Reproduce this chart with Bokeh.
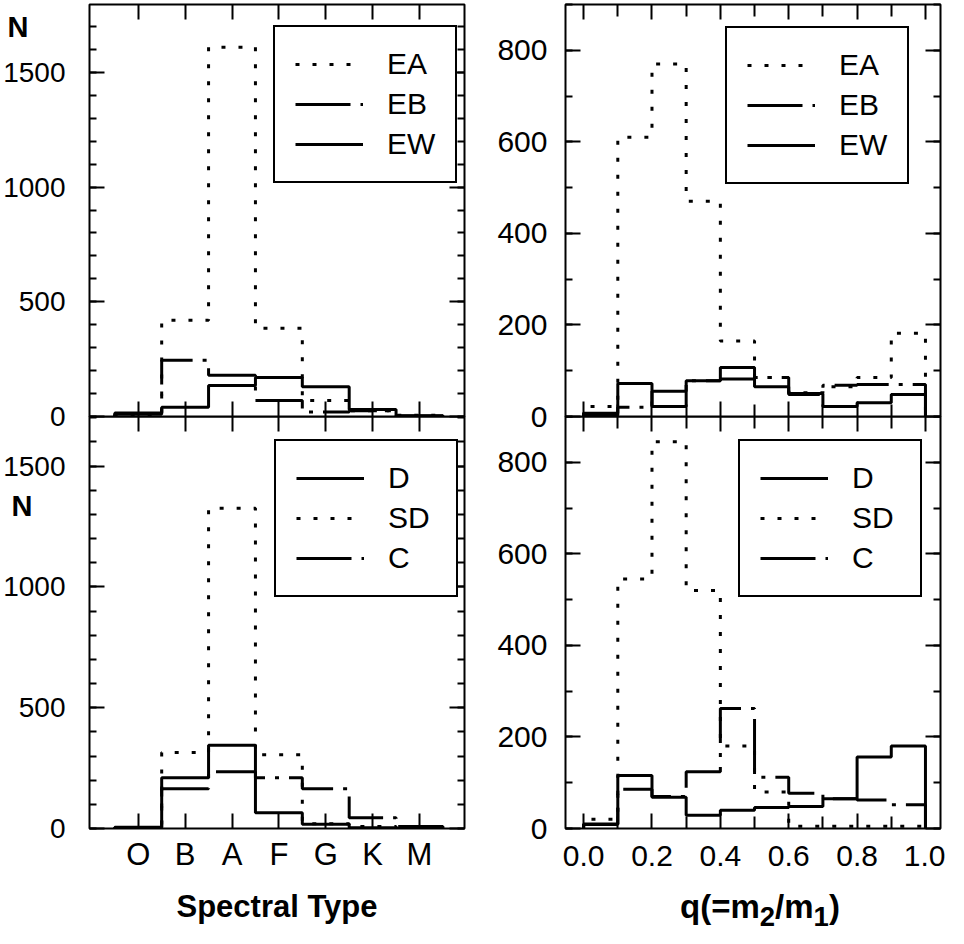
from bokeh.plotting import figure
from bokeh.models import (Range1d, FixedTicker, LinearAxis, Legend, LegendItem,
                          PrintfTickFormatter, Div, CustomLabelingPolicy)
from bokeh.layouts import column, row
from bokeh.embed import file_html
from bokeh.resources import INLINE

FONT = "Liberation Sans"

# ---------------- data ----------------
spectral_types = ["O", "B", "A", "F", "G", "K", "M"]
spectral_pos = [1, 2, 3, 4, 5, 6, 7]
spectral_edges = [0.5, 1.5, 2.5, 3.5, 4.5, 5.5, 6.5, 7.5]

# top-left: light-curve types vs spectral type
sp_EA = [5, 420, 1610, 385, 70, 25, 5]
sp_EB = [10, 245, 180, 70, 20, 25, 2]
sp_EW = [15, 40, 135, 170, 130, 30, 3]

# bottom-left: morphology vs spectral type
sp_D = [5, 210, 345, 65, 18, 3, 1]
sp_SD = [3, 315, 1325, 305, 20, 8, 2]
sp_C = [3, 165, 235, 210, 165, 45, 8]

# right panels: mass ratio q
q_edges = [0.0, 0.1, 0.2, 0.3, 0.4, 0.5, 0.6, 0.7, 0.8, 0.9, 1.0]
q_EA = [22, 610, 770, 470, 165, 85, 52, 65, 85, 182]
q_EB = [3, 20, 55, 78, 82, 85, 48, 68, 70, 70]
q_EW = [7, 72, 22, 78, 107, 65, 50, 22, 30, 48]

q_D = [9, 116, 68, 29, 40, 46, 48, 65, 156, 180]
q_SD = [20, 545, 845, 520, 180, 80, 5, 5, 5, 5]
q_C = [10, 86, 70, 124, 262, 112, 77, 65, 62, 52]

left_yticks = [0, 500, 1000, 1500]
left_yminor = list(range(0, 1800, 100))
right_yticks = [0, 200, 400, 600, 800]
right_yminor = list(range(0, 901, 100))
q_ticks = [0.0, 0.2, 0.4, 0.6, 0.8, 1.0]
q_minor = [0.1, 0.3, 0.5, 0.7, 0.9]

DOT = "4 13"
DASHDOT = "55 10 4 10"
FH = 412  # frame height

NO_LABELS = CustomLabelingPolicy(code="""
for (const i of indices) { indices.unset(i) }
return indices
""")


def step_xy(edges, vals):
    return [edges[0]] + list(edges), [0] + list(vals) + [0]


def style_axis(ax, ticker, fs=None, standoff=0, major_in=15, minor_in=7):
    ax.ticker = ticker
    ax.axis_line_color = None
    ax.major_tick_in = major_in
    ax.major_tick_out = 0
    ax.minor_tick_in = minor_in
    ax.minor_tick_out = 0
    ax.major_tick_line_width = 2
    ax.minor_tick_line_width = 2
    ax.major_tick_line_color = "black"
    ax.minor_tick_line_color = "black"
    if fs is not None:
        ax.major_label_text_font = FONT
        ax.major_label_text_font_size = fs
        ax.major_label_text_color = "black"
        ax.major_label_standoff = standoff
    else:
        ax.major_label_text_font_size = "0px"
        ax.major_label_standoff = 0
        ax.major_label_policy = NO_LABELS


def panel(xr, yr, bl, br, bt, bb):
    p = figure(frame_width=375, frame_height=FH, x_range=xr, y_range=yr,
               output_backend="svg", toolbar_location=None,
               min_border_left=bl, min_border_right=br,
               min_border_top=bt, min_border_bottom=bb)
    p.grid.visible = False
    p.outline_line_color = "black"
    p.outline_line_width = 2
    p.outline_line_alpha = 1
    return p


def add_mirror_axes(p, xticker, yticker, minor_in_x=7):
    top = LinearAxis()
    style_axis(top, xticker, minor_in=minor_in_x)
    p.add_layout(top, "above")
    right = LinearAxis()
    style_axis(right, yticker)
    p.add_layout(right, "right")


def draw(p, edges, vals, dash):
    xs, ys = step_xy(edges, vals)
    return p.step(x=xs, y=ys, mode="after", line_color="black", line_width=3,
                  line_dash=dash)


def add_legend(p, items, loc):
    leg = Legend(items=[LegendItem(label=l, renderers=[r]) for l, r in items],
                 location=loc, orientation="vertical",
                 label_text_font=FONT, label_text_font_size="30px",
                 label_text_color="black",
                 glyph_width=68, glyph_height=34, label_height=34, label_width=48,
                 label_standoff=24, spacing=6, padding=20, margin=0,
                 border_line_color="black", border_line_width=2, border_line_alpha=1,
                 background_fill_color="white", background_fill_alpha=1)
    p.add_layout(leg)


def n_div(margin):
    return Div(text="N", width=30, height=30, margin=margin,
               styles={"font-family": FONT, "font-size": "29px", "font-weight": "bold",
                       "line-height": "30px", "text-align": "center", "color": "black",
                       "z-index": "10"})


sp_label_map = {pos: name for pos, name in zip(spectral_pos, spectral_types)}
sp_ticker = dict(ticks=spectral_pos, minor_ticks=[])
ly_ticker = dict(ticks=left_yticks, minor_ticks=left_yminor)
ry_ticker = dict(ticks=right_yticks, minor_ticks=right_yminor)
q_ticker = dict(ticks=q_ticks, minor_ticks=q_minor)
sp_x = (-0.04, 7.96)

# ---------------- top-left ----------------
tl = panel(Range1d(*sp_x), Range1d(0, 1796), 89, 5, 4, 20)
style_axis(tl.xaxis[0], FixedTicker(**sp_ticker))
style_axis(tl.yaxis[0], FixedTicker(**ly_ticker), "28px", 24)
add_mirror_axes(tl, FixedTicker(**sp_ticker), FixedTicker(**ly_ticker))
r_ea = draw(tl, spectral_edges, sp_EA, DOT)
r_eb = draw(tl, spectral_edges, sp_EB, DASHDOT)
r_ew = draw(tl, spectral_edges, sp_EW, "solid")
add_legend(tl, [("EA", r_ea), ("EB", r_eb), ("EW", r_ew)], (184, 233))
tl.border_fill_color = "white"
tl.margin = (0, 0, -20, 0)

# ---------------- bottom-left ----------------
bl = panel(Range1d(*sp_x), Range1d(0, 1705), 89, 5, 0, 96)
style_axis(bl.xaxis[0], FixedTicker(**sp_ticker), "31px", 8)
bl.xaxis[0].major_label_overrides = sp_label_map
bl.xaxis[0].axis_label = "Spectral Type"
bl.xaxis[0].axis_label_text_font = FONT
bl.xaxis[0].axis_label_text_font_size = "31px"
bl.xaxis[0].axis_label_text_font_style = "bold"
bl.xaxis[0].axis_label_text_color = "black"
bl.xaxis[0].axis_label_standoff = 14
style_axis(bl.yaxis[0], FixedTicker(**ly_ticker), "28px", 24)
add_mirror_axes(bl, FixedTicker(**sp_ticker), FixedTicker(**ly_ticker))
r_d = draw(bl, spectral_edges, sp_D, "solid")
r_sd = draw(bl, spectral_edges, sp_SD, DOT)
r_c = draw(bl, spectral_edges, sp_C, DASHDOT)
add_legend(bl, [("D", r_d), ("SD", r_sd), ("C", r_c)], (185, 231))
bl.border_fill_color = None
bl.background_fill_color = None

# ---------------- top-right ----------------
qx = (-0.053, 1.044)
tr = panel(Range1d(*qx), Range1d(0, 900), 96, 5, 4, 20)
style_axis(tr.xaxis[0], FixedTicker(**q_ticker), minor_in=12)
style_axis(tr.yaxis[0], FixedTicker(**ry_ticker), "30px", 18)
add_mirror_axes(tr, FixedTicker(**q_ticker), FixedTicker(**ry_ticker), minor_in_x=12)
r_ea2 = draw(tr, q_edges, q_EA, DOT)
r_eb2 = draw(tr, q_edges, q_EB, DASHDOT)
r_ew2 = draw(tr, q_edges, q_EW, "solid")
add_legend(tr, [("EA", r_ea2), ("EB", r_eb2), ("EW", r_ew2)], (160, 232))
tr.border_fill_color = "white"
tr.margin = (0, 0, -20, 0)

# ---------------- bottom-right ----------------
br = panel(Range1d(*qx), Range1d(0, 900), 96, 5, 0, 52)
style_axis(br.xaxis[0], FixedTicker(**q_ticker), "30px", 17, minor_in=12)
br.xaxis[0].formatter = PrintfTickFormatter(format="%.1f")
style_axis(br.yaxis[0], FixedTicker(**ry_ticker), "30px", 18)
add_mirror_axes(br, FixedTicker(**q_ticker), FixedTicker(**ry_ticker), minor_in_x=12)
r_d2 = draw(br, q_edges, q_D, "solid")
r_sd2 = draw(br, q_edges, q_SD, DOT)
r_c2 = draw(br, q_edges, q_C, DASHDOT)
add_legend(br, [("D", r_d2), ("SD", r_sd2), ("C", r_c2)], (173, 231))
br.border_fill_color = None
br.background_fill_color = None

q_title = Div(text="q(=m<sub>2</sub>/m<sub>1</sub>)", width=240, height=34,
              margin=(10, 0, 0, 211),
              styles={"font-family": FONT, "font-size": "33px", "font-weight": "bold",
                      "line-height": "34px", "color": "black", "white-space": "nowrap"})

n_top = n_div((12, 0, -42, 3))
n_bot = n_div((75, 0, -105, 7))

layout = row(column(n_top, tl, n_bot, bl), column(tr, br, q_title))
open("out.html", "w").write(file_html(layout, INLINE))
